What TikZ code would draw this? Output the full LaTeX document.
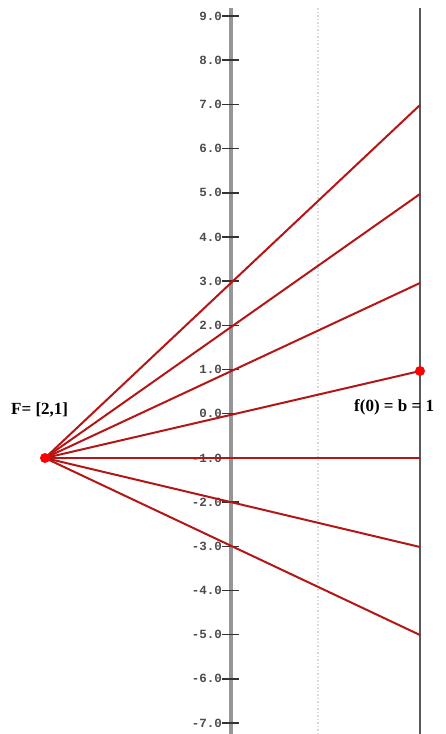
\documentclass[tikz,border=0pt]{standalone}
\usepackage{fontspec}
\setmainfont{Liberation Serif}
\newfontfamily\tickfont{Liberation Mono}
\definecolor{lred}{RGB}{180,22,22}
\definecolor{axgray}{RGB}{150,150,150}
\begin{document}
\begin{tikzpicture}[x=1pt,y=-1pt,
  ticklab/.style={anchor=east,inner sep=0pt,font=\tickfont\bfseries\fontsize{12.5}{12.5}\selectfont,text=black!70},
  ray/.style={draw=lred,line width=2pt},
  lab/.style={inner sep=0pt,font=\bfseries\fontsize{17}{17}\selectfont}]
\useasboundingbox (0,0) rectangle (445,734);
% dotted guide
\draw[black!15,dotted,line width=1.5pt] (318,8) -- (318,734);
% axis
\coordinate (axtop) at (231,8);
\coordinate (axbot) at (231,734);
\draw[axgray,line width=3.5pt] (axtop) -- (axbot);
% right line
\coordinate (rtop) at (420,8);
\coordinate (rbot) at (420,734);
\draw[black!65,line width=2.4pt] (rtop) -- (rbot);
% ticks
\foreach \v [count=\i from 0] in {9.0,8.0,7.0,6.0,5.0,4.0,3.0,2.0,1.0,0.0,-1.0,-2.0,-3.0,-4.0,-5.0,-6.0,-7.0}{
  \pgfmathsetmacro\yy{16+44.19*\i}
  \draw[black!80,line width=1.5pt] (222,\yy) -- (239,\yy);
  \node[ticklab] (t\i) at (222,\yy) {\v};
}
% focus and rays
\coordinate (F) at (45,458);
\foreach \yy [count=\j] in {105,194,283,371,458,547,635}{
  \coordinate (e\j) at (420,\yy);
  \draw[ray] (F) -- (e\j);
}
\fill[red] (F) circle (5pt);
\fill[red] (e4) circle (5pt);
\node[lab,anchor=west] (flab) at (11,410) {F= [2,1]};
\node[lab,anchor=west] (blab) at (354,407) {f(0) = b = 1};
\end{tikzpicture}
\end{document}
